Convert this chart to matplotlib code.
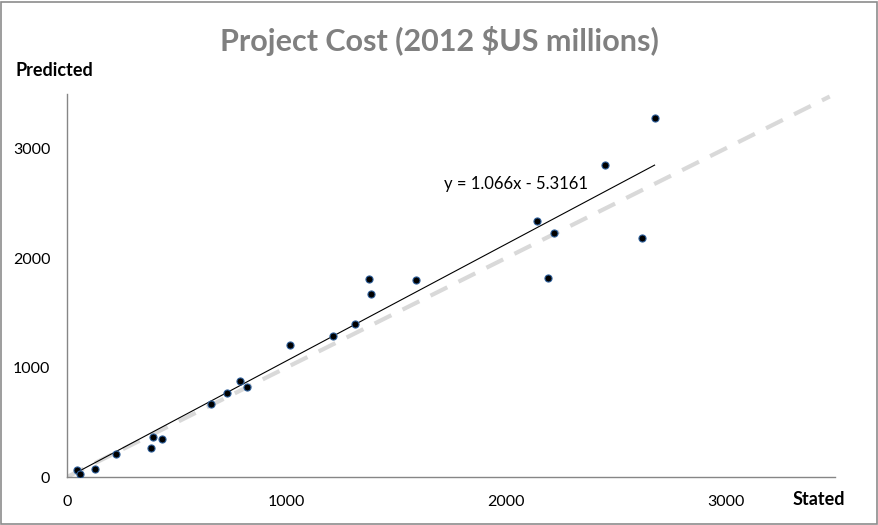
import numpy as np
import matplotlib; matplotlib.use("Agg")
import matplotlib.pyplot as plt
from matplotlib.patches import Rectangle

# Data
stated    = [47, 58, 129, 225, 382, 390, 432, 658, 729, 787, 820, 1018, 1211,
             1312, 1376, 1385, 1590, 2143, 2193, 2221, 2449, 2618, 2677]
predicted = [64, 27, 73, 210, 262, 362, 344, 663, 768, 881, 818, 1210, 1288,
             1395, 1811, 1675, 1802, 2340, 1820, 2231, 2851, 2185, 3279]
slope, intercept = 1.066, -5.3161
ref_max = 3475          # y = x reference line end
xticks = [0, 1000, 2000, 3000]
yticks = [0, 1000, 2000, 3000]

plt.rcParams["font.family"] = ["Lato", "DejaVu Sans"]
AXC = "#868686"

fig = plt.figure(figsize=(8.79, 5.25), dpi=100)
fig.patches.append(Rectangle((0.001, 0.002), 0.997, 0.995, transform=fig.transFigure,
                             fill=False, edgecolor="#8c8c8c", lw=1.2))
ax = fig.add_axes([0.0762, 0.0914, 0.874, 0.730])

# y = x reference
ax.plot([0, ref_max], [0, ref_max], color="#d9d9d9", lw=3, ls=(0, (4.5, 3)),
        solid_capstyle="butt", zorder=1)
# trend line
xs = np.array([min(stated), max(stated)])
ax.plot(xs, slope * xs + intercept, color="black", lw=0.8, zorder=2)
ax.scatter(stated, predicted, s=26, color="black", edgecolor="#2e5f9a", lw=0.8, zorder=3)

ax.set_xlim(0, 3500); ax.set_ylim(0, 3500)
ax.set_xticks(xticks); ax.set_yticks(yticks)
ax.tick_params(length=0, labelsize=11.5, pad=13, colors="black")
ax.tick_params(axis="y", pad=12)
for s in ["top", "right"]:
    ax.spines[s].set_visible(False)
for s in ["left", "bottom"]:
    ax.spines[s].set_color(AXC); ax.spines[s].set_linewidth(1)

ax.text(2046, 2680, "y = 1.066x - 5.3161", fontsize=12, ha="center", va="center")

fig.text(0.5, 0.922, "Project Cost (2012 $US millions)", ha="center", va="center",
         fontsize=22, fontweight="bold", color="#808080")
fig.text(0.018, 0.866, "Predicted", ha="left", va="center", fontsize=13, fontweight="bold")
fig.text(0.902, 0.049, "Stated", ha="left", va="center", fontsize=13, fontweight="bold")

fig.savefig("out.png", dpi=100)
